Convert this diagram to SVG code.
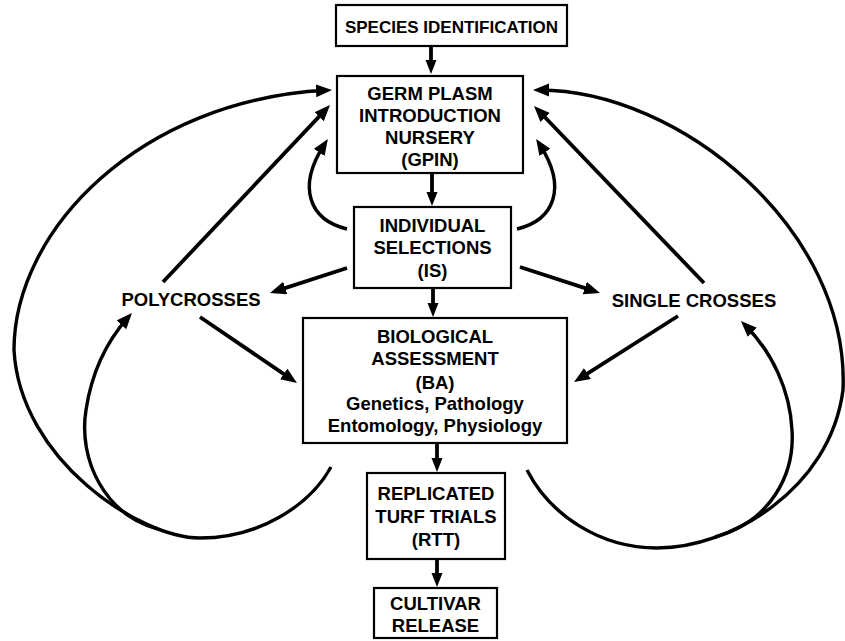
<svg xmlns="http://www.w3.org/2000/svg" width="845" height="641" viewBox="0 0 845 641">
<style>
.box{fill:#fff;stroke:#000;stroke-width:2.2}
.t{font-family:"Liberation Sans",Arial,Helvetica,sans-serif;font-weight:bold;font-size:18.5px;fill:#000;text-anchor:middle}
.ln{fill:none;stroke:#000;stroke-width:3.8;marker-end:url(#ah)}
.cva{fill:none;stroke:#000;stroke-width:3.4;marker-end:url(#ah)}
.sv{fill:none;stroke:#000;stroke-width:3.8;marker-end:url(#ahs)}
</style>
<defs>
<marker id="ah" markerUnits="userSpaceOnUse" markerWidth="18" markerHeight="14" refX="10" refY="6.5" orient="auto">
<path d="M0,0 L16,6.5 L0,13 z" fill="#000"/>
</marker>
<marker id="ahs" markerUnits="userSpaceOnUse" markerWidth="16" markerHeight="13" refX="8" refY="5.5" orient="auto">
<path d="M0,0 L14,5.5 L0,11 z" fill="#000"/>
</marker>
</defs>
<rect width="845" height="641" fill="#fff"/>

<g id="connectors">
<path class="sv" d="M431,46 L431,68"/>
<path class="sv" d="M432,173 L432,200"/>
<path class="sv" d="M433,288 L433,311"/>
<path class="sv" d="M437,443 L437,466"/>
<path class="sv" d="M437,559 L437,581"/>
<path class="ln" d="M347,268 L275.7,291.1"/>
<path class="ln" d="M520,267 L594.3,291.1"/>
<path class="ln" d="M200,317 L292,379.6"/>
<path class="ln" d="M678,316 L579.1,378.8"/>
<path class="ln" d="M163,282 L325.9,109.4"/>
<path class="ln" d="M704,283 L538.2,110.3"/>
<path class="cva" d="M347,229 C310,220 296,188 324.6,144"/>
<path class="cva" d="M517,229 C554,220 568,188 539.4,144"/>
<path class="cva" d="M331,467 C310,505 260,538 200,538 C140,538 20,460 14,350 C14,230 140,100 326,90.3"/>
<path class="cva" d="M158,529 C105,515 78,460 86,410 C92,370 108,340 128,317.4"/>
<path class="cva" d="M527,470 C550,515 600,548 657,548 C730,548 830,490 843,390 C850,230 680,90 539,90"/>
<path class="cva" d="M715,537 C770,522 795,475 792,430 C790,390 772,352 745.2,325.2"/>
</g>

<g id="species">
<rect class="box" x="336" y="5" width="231" height="41"/>
<text class="t" x="451.5" y="33" style="font-size:17px">SPECIES IDENTIFICATION</text>
</g>
<g id="gpin">
<rect class="box" x="337" y="76" width="186" height="97"/>
<text class="t" x="430" y="100">GERM PLASM</text>
<text class="t" x="430" y="122">INTRODUCTION</text>
<text class="t" x="430" y="144">NURSERY</text>
<text class="t" x="430" y="166">(GPIN)</text>
</g>
<g id="is">
<rect class="box" x="354" y="207" width="157" height="81"/>
<text class="t" x="432.5" y="232">INDIVIDUAL</text>
<text class="t" x="432.5" y="254">SELECTIONS</text>
<text class="t" x="432.5" y="277">(IS)</text>
</g>
<g id="polycrosses">
<text class="t" x="191" y="306">POLYCROSSES</text>
</g>
<g id="singlecrosses">
<text class="t" x="694" y="307">SINGLE CROSSES</text>
</g>
<g id="ba">
<rect class="box" x="303" y="318" width="264" height="125"/>
<text class="t" x="435" y="343">BIOLOGICAL</text>
<text class="t" x="435" y="365">ASSESSMENT</text>
<text class="t" x="435" y="389">(BA)</text>
<text class="t" x="435" y="410">Genetics, Pathology</text>
<text class="t" x="435" y="432">Entomology, Physiology</text>
</g>
<g id="rtt">
<rect class="box" x="367" y="473" width="138" height="86"/>
<text class="t" x="436" y="500">REPLICATED</text>
<text class="t" x="436" y="523">TURF TRIALS</text>
<text class="t" x="436" y="546">(RTT)</text>
</g>
<g id="cultivar">
<rect class="box" x="374" y="588" width="123" height="50"/>
<text class="t" x="435.5" y="610">CULTIVAR</text>
<text class="t" x="435.5" y="632">RELEASE</text>
</g>
</svg>
